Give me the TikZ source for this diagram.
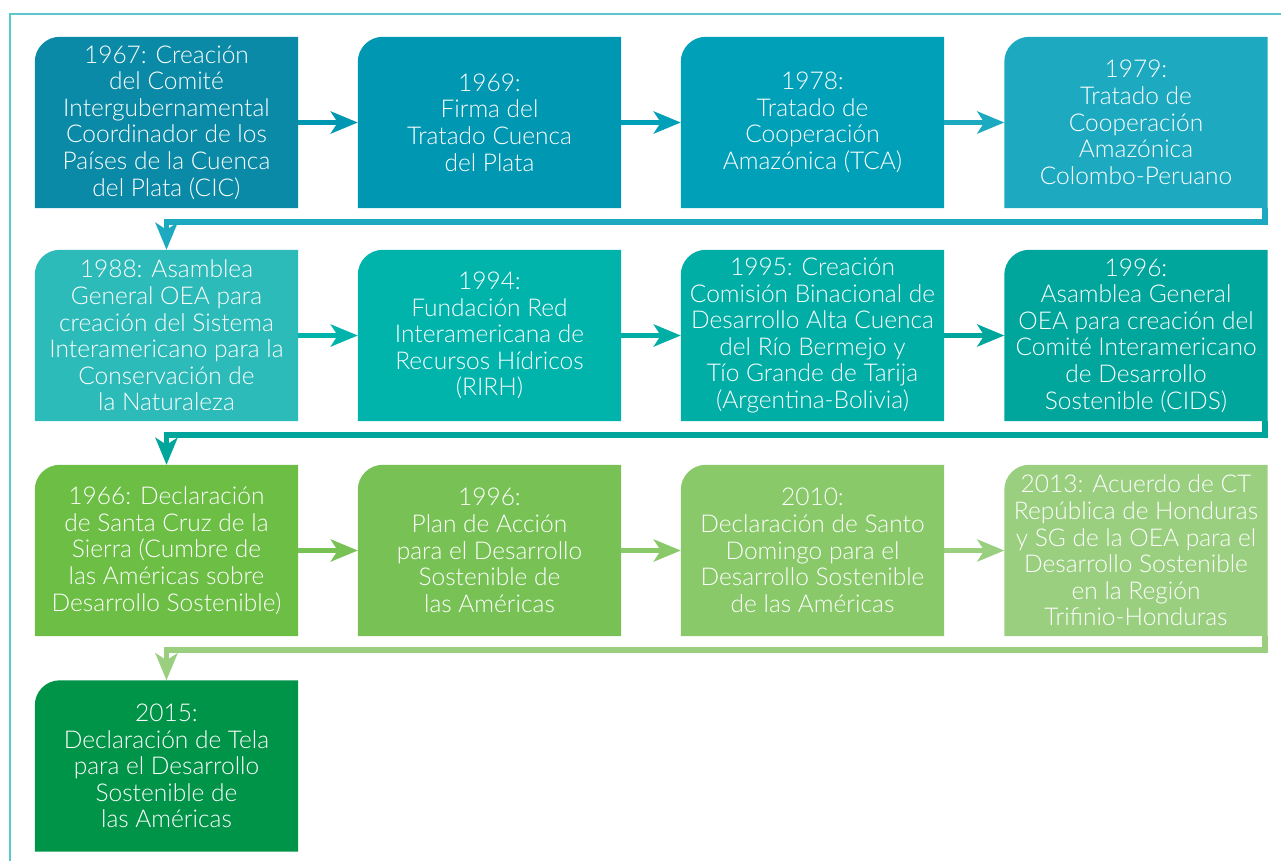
\documentclass[tikz,border=0pt]{standalone}
\usepackage{fontspec}
\setmainfont{Lato Light}
\usepackage{xcolor}
\usetikzlibrary{arrows.meta,backgrounds}
\definecolor{frame}{RGB}{90, 200, 205}
\definecolor{cic}{RGB}{10, 138, 166}
\definecolor{plata}{RGB}{0, 151, 178}
\definecolor{tca}{RGB}{0, 160, 184}
\definecolor{colper}{RGB}{29, 169, 191}
\definecolor{oea}{RGB}{44, 187, 184}
\definecolor{rirh}{RGB}{0, 180, 172}
\definecolor{bermejo}{RGB}{0, 174, 166}
\definecolor{cids}{RGB}{0, 166, 155}
\definecolor{cumbre}{RGB}{108, 190, 69}
\definecolor{plan}{RGB}{120, 194, 85}
\definecolor{santo}{RGB}{137, 201, 106}
\definecolor{trifinio}{RGB}{154, 207, 128}
\definecolor{tela}{RGB}{0, 148, 72}

\tikzset{
  stage/.style={minimum width=263pt, minimum height=171pt, inner sep=0pt,
    align=center, text=white, font=\fontsize{24.5}{26.6}\selectfont},
  flow/.style={line width=5.5pt, -{Stealth[length=27pt, width=22pt, inset=7pt]}},
}
% box with only the top left corner rounded
\newcommand{\stagefill}[2]{%
  \fill[#2] (#1.south west) -- ([yshift=-25pt]#1.north west)
    arc[start angle=180, end angle=90, radius=25pt] -- (#1.north east)
    -- (#1.south east) -- cycle;}

\begin{document}
\begin{tikzpicture}[x=1pt, y=-1pt]
  \useasboundingbox (0,0) rectangle (1281,860);
  \draw[color=frame, line width=2pt] (10,880) -- (10,14) -- (1300,14);

  \node[stage] (cic) at (166.5, 122.5) {1967: Creación\\del Comité\\Intergubernamental\\Coordinador de los\\Países de la Cuenca\\del Plata (CIC)};
  \node[stage] (plata) at (489.5, 122.5) {1969:\\Firma del\\Tratado Cuenca\\del Plata};
  \node[stage] (tca) at (812.5, 122.5) {1978:\\Tratado de\\Cooperación\\Amazónica (TCA)};
  \node[stage] (colper) at (1136, 122.5) {1979:\\Tratado de\\Cooperación\\Amazónica\\Colombo-Peruano};

  \node[stage] (oea) at (166.5, 335.5) {1988: Asamblea\\General OEA para\\creación del Sistema\\Interamericano para la\\Conservación de\\la Naturaleza};
  \node[stage] (rirh) at (489.5, 335.5) {1994:\\Fundación Red\\Interamericana de\\Recursos Hídricos\\(RIRH)};
  \node[stage] (bermejo) at (812.5, 335.5) {1995: Creación\\Comisión Binacional de\\Desarrollo Alta Cuenca\\del Río Bermejo y\\Tío Grande de Tarija\\(Argentina-Bolivia)};
  \node[stage] (cids) at (1136, 335.5) {1996:\\Asamblea General\\OEA para creación del\\Comité Interamericano\\de Desarrollo\\Sostenible (CIDS)};

  \node[stage] (cumbre) at (166.5, 550.5) {1966: Declaración\\de Santa Cruz de la\\Sierra (Cumbre de\\las Américas sobre\\Desarrollo Sostenible)};
  \node[stage] (plan) at (489.5, 550.5) {1996:\\Plan de Acción\\para el Desarrollo\\Sostenible de\\las Américas};
  \node[stage] (santo) at (812.5, 550.5) {2010:\\Declaración de Santo\\Domingo para el\\Desarrollo Sostenible\\de las Américas};
  \node[stage] (trifinio) at (1136, 550.5) {2013: Acuerdo de CT\\República de Honduras\\y SG de la OEA para el\\Desarrollo Sostenible\\en la Región\\Trifinio-Honduras};

  \node[stage] (tela) at (166.5, 766) {2015:\\Declaración de Tela\\para el Desarrollo\\Sostenible de\\las Américas};

  \begin{scope}[on background layer]
    \foreach \n in {cic, plata, tca, colper, oea, rirh, bermejo, cids,
                    cumbre, plan, santo, trifinio, tela}
      {\stagefill{\n}{\n}}
  \end{scope}

  \draw[flow, color=plata] (cic) -- (plata);
  \draw[flow, color=tca] (plata) -- (tca);
  \draw[flow, color=colper] (tca) -- (colper);
  \draw[flow, color=colper] ([xshift=-2.75pt]colper.south east) -- ++(0,14) -| (oea.north);

  \draw[flow, color=rirh] (oea) -- (rirh);
  \draw[flow, color=bermejo] (rirh) -- (bermejo);
  \draw[flow, color=cids] (bermejo) -- (cids);
  \draw[flow, color=cids] ([xshift=-2.75pt]cids.south east) -- ++(0,14) -| (cumbre.north);

  \draw[flow, color=plan] (cumbre) -- (plan);
  \draw[flow, color=santo] (plan) -- (santo);
  \draw[flow, color=trifinio] (santo) -- (trifinio);
  \draw[flow, color=trifinio] ([xshift=-2.75pt]trifinio.south east) -- ++(0,14) -| (tela.north);
\end{tikzpicture}
\end{document}
